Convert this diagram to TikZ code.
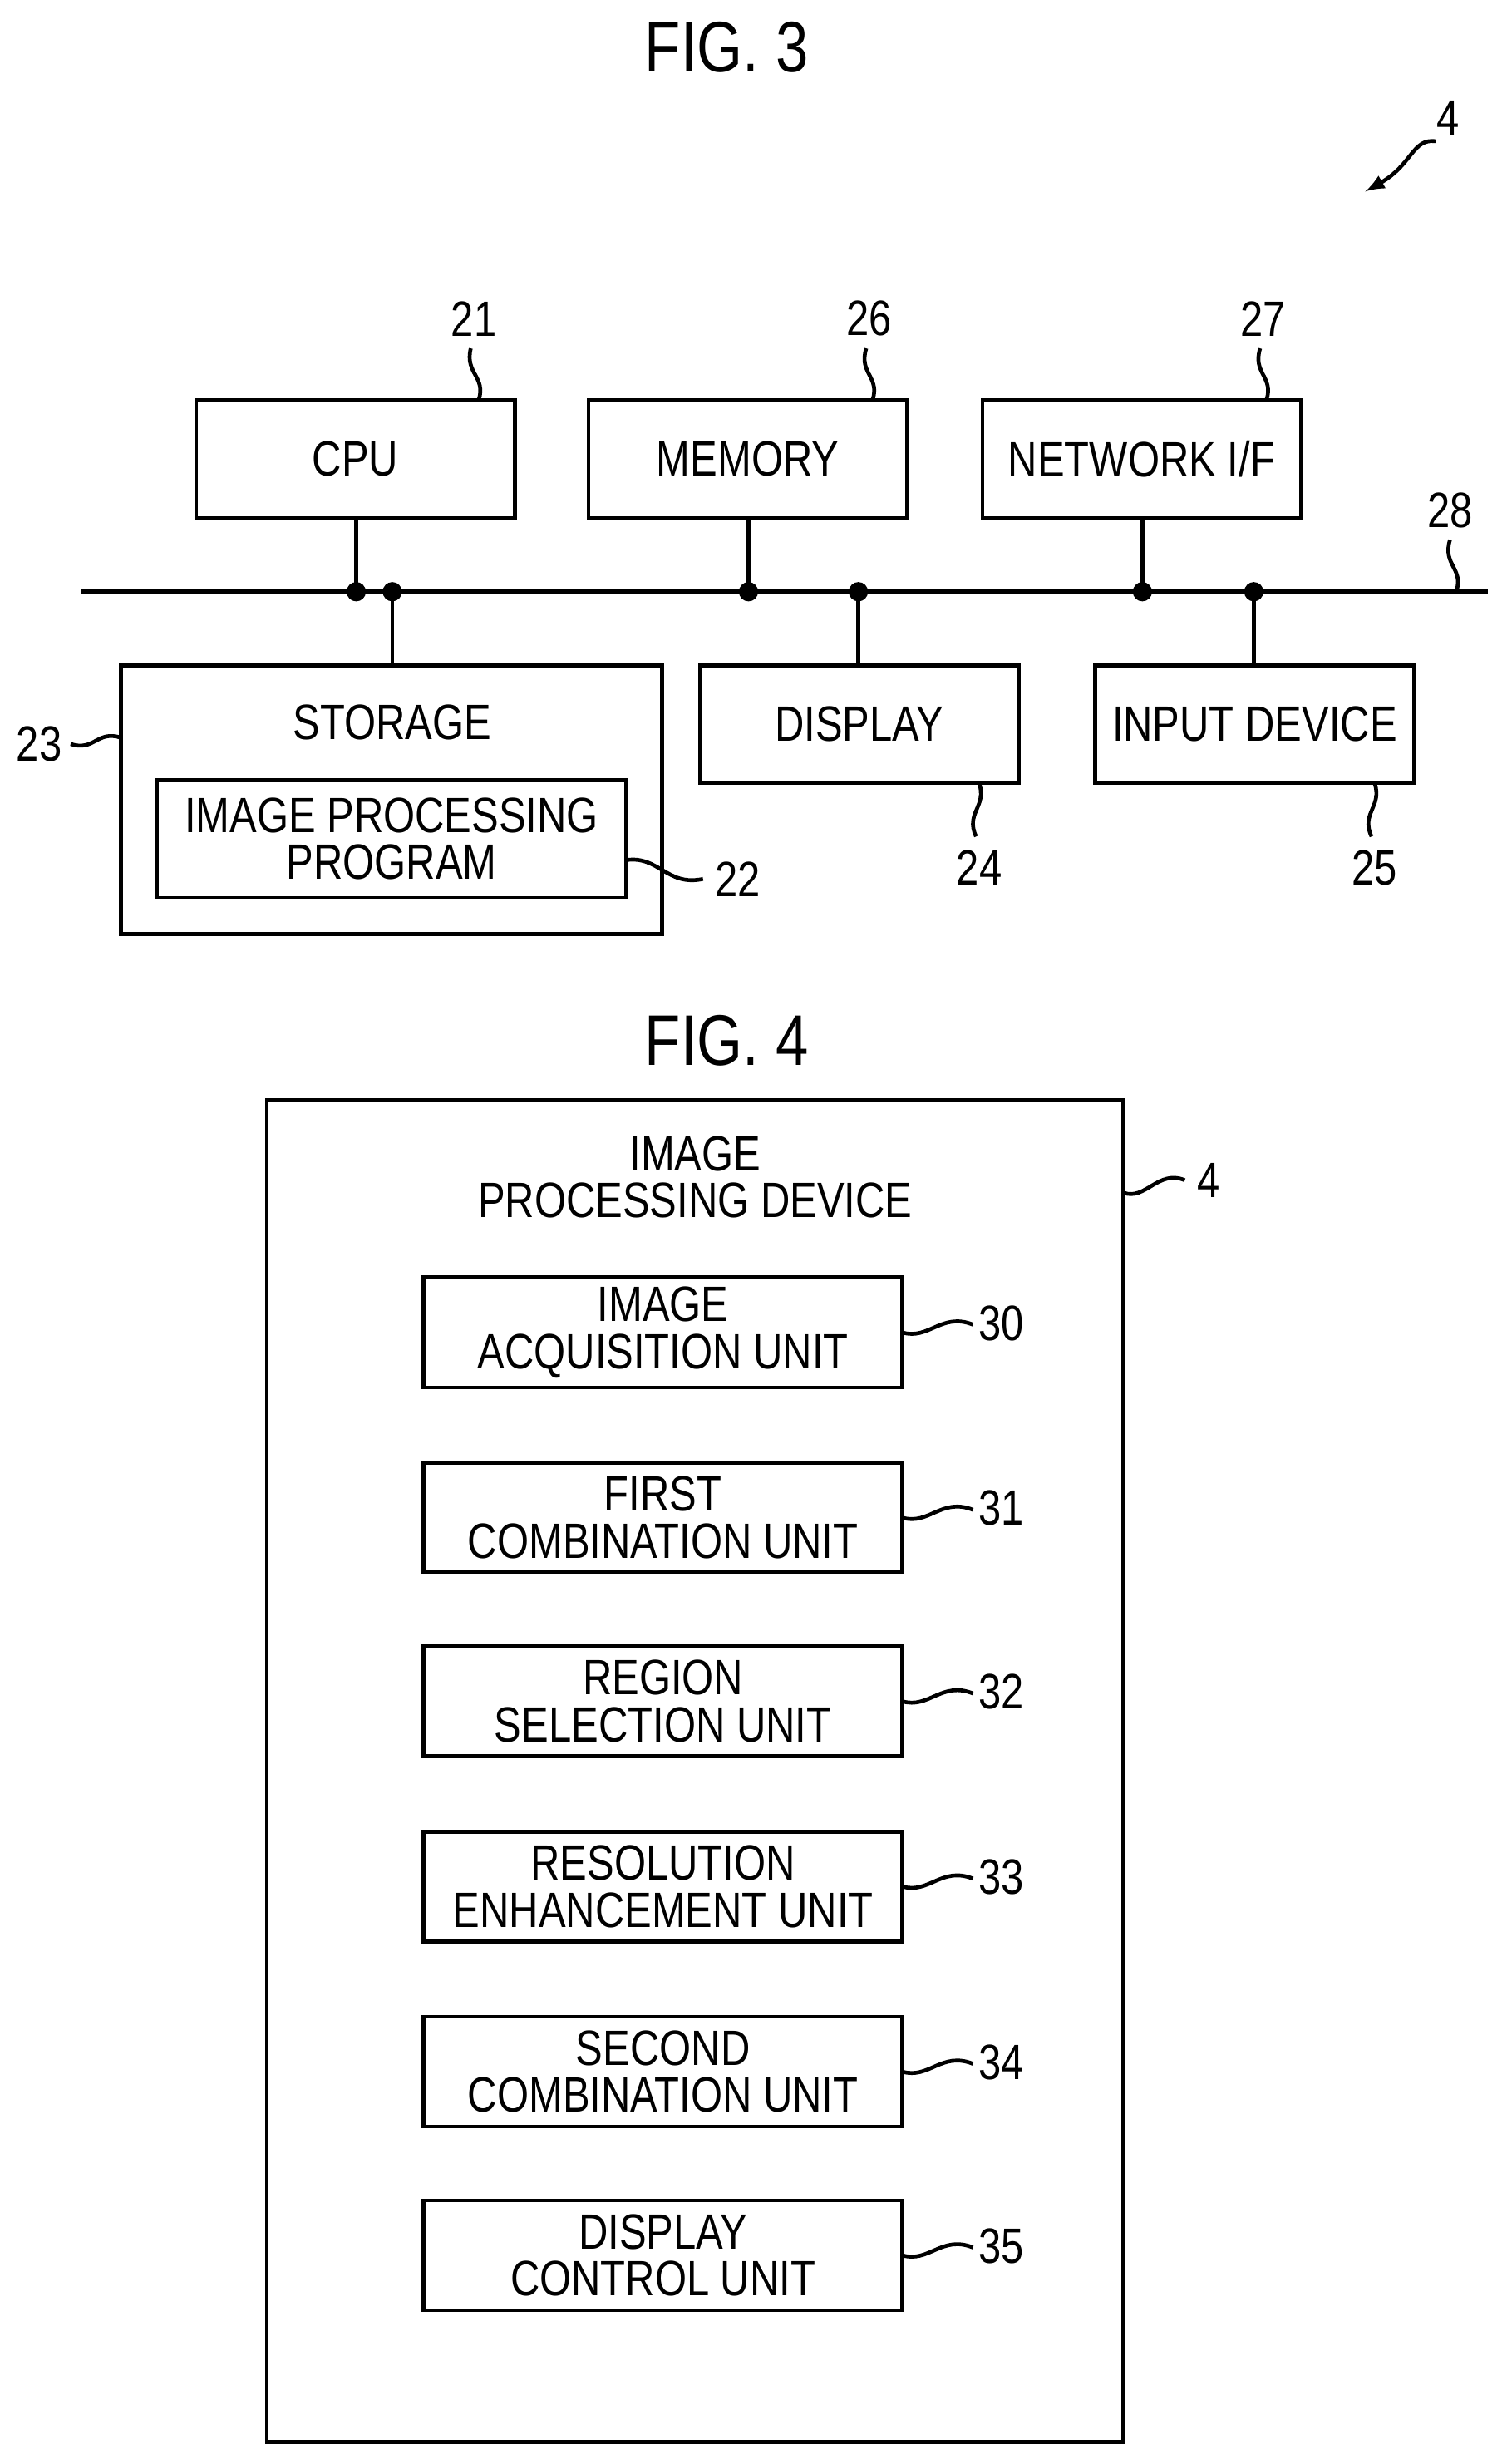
\documentclass[tikz,border=0pt]{standalone}
\usepackage{fontspec}
\setmainfont{Liberation Sans}[FakeStretch=0.82]
\begin{document}
\begin{tikzpicture}[x=0.02cm,y=-0.02cm,
  box/.style={draw,line width=1.4pt,inner sep=0pt},
  lbl/.style={font=\fontsize{18}{20}\selectfont,align=center},
  num/.style={font=\fontsize{18}{20}\selectfont},
  ln/.style={line width=1.4pt},
  dot/.style={circle,fill,inner sep=0pt,minimum size=7pt}]
\useasboundingbox (0,0) rectangle (960,1570);
% FIG 3
\node[font=\fontsize{26}{28}\selectfont] (f3) at (463,30) {FIG. 3};
\node[num] (n4a) at (923,75) {4};
\draw[ln,-latex] (915,90) .. controls (900,88) and (900,105) .. (870,122);
\draw[box] (125,255) rectangle (328,330) node[midway,lbl] (cput) {CPU};
\draw[box] (375,255) rectangle (578,330) node[midway,lbl] (mem) {MEMORY};
\draw[box] (626,255) rectangle (829,330) node[midway,lbl] (net) {NETWORK I/F};
\draw[box] (77,424) rectangle (422,595);
\node[lbl] (sto) at (250,460) {STORAGE};
\draw[box] (100,497) rectangle (399,572) node[midway,lbl] (ipp) {IMAGE PROCESSING\\[-3pt]PROGRAM};
\draw[box] (446,424) rectangle (649,499) node[midway,lbl] (disp) {DISPLAY};
\draw[box] (698,424) rectangle (901,499) node[midway,lbl] (inp) {INPUT DEVICE};
\coordinate (b0) at (52,377); \coordinate (b1) at (948,377);
\draw[ln] (b0) -- (b1);
\foreach \x/\y/\z in {227/330/377, 250/424/377, 477/330/377, 547/424/377, 728/330/377, 799/424/377}{
  \draw[ln] (\x,\y) -- (\x,\z); \node[dot] at (\x,377) {};}
% number labels
\node[num] (n21) at (302,203) {21};
\draw[ln] (305,255) .. controls (310,240) and (296,238) .. (300,222);
\node[num] (n26) at (554,203) {26};
\draw[ln] (556,255) .. controls (561,240) and (547,238) .. (552,222);
\node[num] (n27) at (805,203) {27};
\draw[ln] (807,255) .. controls (812,240) and (798,238) .. (803,222);
\node[num] (n28) at (924,325) {28};
\draw[ln] (928,377) .. controls (933,362) and (919,360) .. (924,344);
\node[num] (n23) at (25,474) {23};
\draw[ln] (77,470) .. controls (62,465) and (60,479) .. (45,474);
\node[num] (n22) at (470,560) {22};
\draw[ln] (399,548) .. controls (420,545) and (425,565) .. (448,560);
\node[num] (n24) at (624,553) {24};
\draw[ln] (624,499) .. controls (629,514) and (615,518) .. (622,533);
\node[num] (n25) at (876,553) {25};
\draw[ln] (876,499) .. controls (881,514) and (867,518) .. (874,533);
% FIG 4
\node[font=\fontsize{26}{28}\selectfont] (f4) at (463,663) {FIG. 4};
\draw[box] (170,701) rectangle (716,1556);
\node[lbl] (ipd) at (443,750) {IMAGE\\[-3pt]PROCESSING DEVICE};
\node[num] (n4b) at (770,752) {4};
\draw[ln] (716,760) .. controls (730,765) and (738,745) .. (755,752);
\foreach \t/\a/\b/\n in {814/IMAGE/ACQUISITION UNIT/30, 932/FIRST/COMBINATION UNIT/31, 1049/REGION/SELECTION UNIT/32, 1167/RESOLUTION/ENHANCEMENT UNIT/33, 1285/SECOND/COMBINATION UNIT/34, 1402/DISPLAY/CONTROL UNIT/35}{
  \draw[box] (270,\t) rectangle (575,\t+70) node[midway,lbl] {\a\\[-3pt]\b};
  \node[num] at (638,\t+29) {\n};
  \draw[ln] (575,\t+35) .. controls (592,\t+40) and (600,\t+22) .. (620,\t+30);
}
\end{tikzpicture}
\end{document}
